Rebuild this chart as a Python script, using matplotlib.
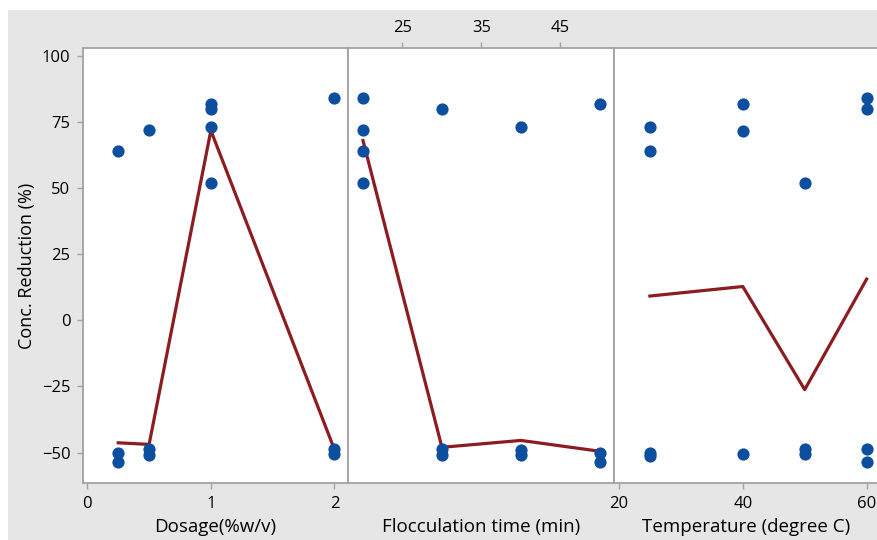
import matplotlib
matplotlib.use('Agg')
import matplotlib.pyplot as plt
from matplotlib.patches import Rectangle

plt.rcParams['font.family'] = ['Open Sans', 'DejaVu Sans']

# Dosage panel
dosage_x = [0.25, 0.25, 0.25, 0.5, 0.5, 0.5, 1, 1, 1, 1, 2, 2, 2]
dosage_y = [64, -50, -53.5, 72, -48.8, -51, 81.8, 79.9, 73, 52, 84, -48.8, -50.5]
dosage_mean_x = [0.25, 0.5, 1, 2]
dosage_mean_y = [-46.3, -46.9, 71.8, -48.8]

# Flocculation time panel
time_x = [20, 20, 20, 20, 30, 30, 30, 40, 40, 40, 50, 50, 50]
time_y = [84, 72, 64, 52, 80, -48.8, -51, 73, -49, -51, 81.8, -50, -53.5]
time_mean_x = [20, 30, 40, 50]
time_mean_y = [68, -48, -45.4, -49.5]

# Temperature panel
temp_x = [25, 25, 25, 25, 40, 40, 40, 50, 50, 50, 60, 60, 60, 60]
temp_y = [73, 64, -50, -51.2, 81.8, 71.8, -50.5, 52, -48.8, -50.6, 84, 79.9, -48.8, -53.6]
temp_mean_x = [25, 40, 50, 60]
temp_mean_y = [9.2, 12.8, -26.2, 15.6]

y_ticks = [-50, -25, 0, 25, 50, 75, 100]
x_labels = ['Dosage(%w/v)', 'Flocculation time (min)', 'Temperature (degree C)']

W, H = 878, 540
fig = plt.figure(figsize=(W / 100, H / 100), dpi=100)
fig.patch.set_facecolor('white')
fig.patches.append(Rectangle((8 / W, 0), 1, 1 - 10 / H, transform=fig.transFigure,
                             facecolor='#e6e6e6', edgecolor='none', zorder=-10))

def make_ax(x0, x1, y0=48, y1=483):
    return fig.add_axes([x0 / W, 1 - y1 / H, (x1 - x0) / W, (y1 - y0) / H])

blue = '#0d4f9e'
red = '#8c1c1f'
grey = '#a3a3a3'

panels = [
    (make_ax(83, 348), dosage_x, dosage_y, dosage_mean_x, dosage_mean_y, (-0.035, 2.11)),
    (make_ax(348, 614), time_x, time_y, time_mean_x, time_mean_y, (18.1, 51.8)),
    (make_ax(614, 879), temp_x, temp_y, temp_mean_x, temp_mean_y, (19.2, 62.0)),
]

for ax, xs, ys, mx, my, xl in panels:
    ax.set_facecolor('white')
    ax.plot(mx, my, color=red, lw=2.3, zorder=2)
    ax.plot(xs, ys, 'o', color=blue, ms=8.8, mec='none', zorder=3)
    ax.set_xlim(*xl)
    ax.set_ylim(-61.5, 103)
    for s in ax.spines.values():
        s.set_color(grey)
        s.set_linewidth(1.3)
    ax.tick_params(colors=grey, labelcolor='black', labelsize=12, length=4, width=1, pad=5)
    ax.set_yticks([])

ax1, ax2, ax3 = [p[0] for p in panels]

ax1.set_yticks(y_ticks)
ax1.set_xticks([0, 1, 2])
ax1.set_ylabel('Conc. Reduction (%)', fontsize=13, labelpad=4)

ax2.set_xticks([25, 35, 45])
ax2.xaxis.tick_top()

ax3.set_xticks([20, 40, 60])
ax3.spines['right'].set_visible(False)

# x labels sit on one common line below the panels
for (x0, x1), txt in zip([(83, 348), (348, 614), (614, 879)], x_labels):
    fig.text((x0 + x1) / 2 / W, 1 - 527 / H, txt, ha='center', va='center', fontsize=13.5)

fig.savefig('out.png', dpi=100, facecolor=fig.get_facecolor())
